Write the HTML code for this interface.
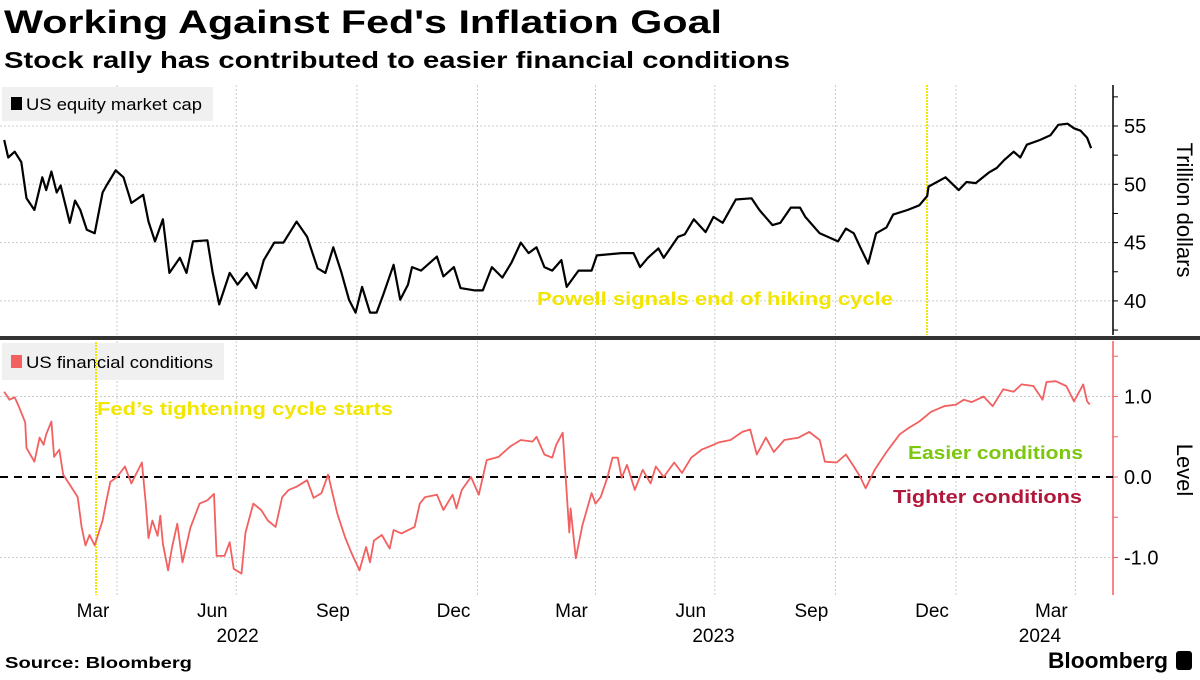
<!DOCTYPE html>
<html><head><meta charset="utf-8"><style>
body{margin:0;background:#fff;}
svg text{font-family:"Liberation Sans",sans-serif;}
</style></head><body>
<svg width="1200" height="675" viewBox="0 0 1200 675" xmlns="http://www.w3.org/2000/svg">
<text x="4" y="33" font-size="32" font-weight="bold" fill="#000" textLength="718" lengthAdjust="spacingAndGlyphs">Working Against Fed's Inflation Goal</text>
<text x="4" y="68" font-size="23" font-weight="bold" fill="#000" textLength="786" lengthAdjust="spacingAndGlyphs">Stock rally has contributed to easier financial conditions</text>
<g id="grid"></g>
<rect x="0" y="336" width="1200" height="4" fill="#333"/>
<rect x="2" y="87" width="211" height="34" fill="#f0f0f0"/>
<rect x="11" y="97" width="11" height="13" fill="#000"/>
<text x="26" y="110" font-size="17" fill="#000" textLength="176" lengthAdjust="spacingAndGlyphs">US equity market cap</text>
<rect x="2" y="343" width="222" height="37" fill="#f0f0f0"/>
<rect x="11" y="355" width="11" height="13" fill="#f26060"/>
<text x="26" y="368" font-size="17" fill="#000" textLength="187" lengthAdjust="spacingAndGlyphs">US financial conditions</text>
<line x1="927" y1="85" x2="927" y2="335" stroke="#f2e600" stroke-width="2" stroke-dasharray="2,1"/>
<line x1="96" y1="342" x2="96" y2="595" stroke="#f2e600" stroke-width="2" stroke-dasharray="2,1"/>
<g id="marks"></g>
<text x="537" y="305" font-size="18" font-weight="bold" fill="#f2e600" textLength="356" lengthAdjust="spacingAndGlyphs">Powell signals end of hiking cycle</text>
<text x="97" y="415" font-size="18" font-weight="bold" fill="#f2e600" textLength="296" lengthAdjust="spacingAndGlyphs">Fed’s tightening cycle starts</text>
<text x="908" y="459" font-size="18" font-weight="bold" fill="#7ac70c" textLength="175" lengthAdjust="spacingAndGlyphs">Easier conditions</text>
<text x="893" y="503" font-size="18" font-weight="bold" fill="#b0173a" textLength="189" lengthAdjust="spacingAndGlyphs">Tighter conditions</text>
<text transform="translate(1177,210) rotate(90)" font-size="22" text-anchor="middle" fill="#000">Trillion dollars</text>
<text transform="translate(1177,470) rotate(90)" font-size="22" text-anchor="middle" fill="#000">Level</text>
<text x="5" y="668" font-size="16" font-weight="bold" fill="#000" textLength="187" lengthAdjust="spacingAndGlyphs">Source: Bloomberg</text>
<text x="1048" y="668" font-size="22" font-weight="bold" fill="#000" textLength="120" lengthAdjust="spacingAndGlyphs">Bloomberg</text>
<rect x="1176" y="651" width="16" height="19" rx="3" fill="#000"/>
</svg>
<script>
const capDays=[4,7,12,17,21,27,33,36,40,44,47,54,58,62,67,73,79,82,89,95,101,110,114,119,125,130,138,143,148,159,163,168,176,182,189,196,202,210,217,227,235,243,249,255,261,267,272,277,283,288,293,301,306,312,315,322,334,339,347,352,363,369,376,384,391,398,404,410,416,422,429,433,442,452,456,475,484,489,495,503,507,518,523,530,539,545,552,562,574,580,590,596,604,611,615,626,632,640,646,652,657,663,669,677,682,693,702,708,709,722,732,738,745,755,761,767,774,779,784,794,802,808,815,820,825,830,833];
const capValues=[53.8,52.3,52.8,51.9,48.8,47.8,50.6,49.5,51.1,49.3,49.9,46.7,48.6,47.8,46.1,45.8,49.3,49.9,51.2,50.6,48.4,49.1,46.8,45.1,47.0,42.4,43.7,42.4,45.1,45.2,42.4,39.7,42.4,41.4,42.4,41.1,43.5,45.0,45.0,46.8,45.5,42.8,42.4,44.6,42.5,40.1,39.0,41.2,39.0,39.0,40.5,43.1,40.1,41.4,42.9,42.6,43.8,42.1,42.9,41.1,40.9,40.9,42.9,42.0,43.3,45.0,44.1,44.6,42.9,42.6,43.5,41.2,42.6,42.6,43.9,44.1,44.1,42.9,43.7,44.5,43.7,45.5,45.7,47.0,45.9,47.2,46.7,48.7,48.8,47.8,46.5,46.7,48.0,48.0,47.2,45.8,45.5,45.1,46.2,45.8,44.6,43.2,45.8,46.3,47.4,47.8,48.2,49.0,49.8,50.6,49.5,50.2,50.1,51.0,51.4,52.1,52.8,52.3,53.4,53.8,54.2,55.1,55.2,54.8,54.6,54.0,53.1];
const fciDays=[4,8,12,15,20,21,27,31,34,36,40,42,46,49,55,60,63,66,69,73,79,82,85,90,96,101,109,112,114,117,121,123,125,129,132,136,140,146,153,159,164,166,172,176,179,185,188,194,200,205,211,216,221,227,235,240,246,251,258,264,269,275,280,283,286,292,298,301,307,317,321,325,334,339,346,349,353,360,366,372,381,390,398,407,410,416,422,425,430,432,435,436,440,445,452,455,459,464,468,472,475,479,485,491,497,501,507,515,521,528,536,542,549,558,567,573,578,585,591,599,610,618,626,630,639,646,652,657,661,668,677,687,694,702,711,721,730,736,742,751,758,766,774,780,789,796,799,806,814,820,827,830,832];
const fciValues=[1.06,0.96,0.99,0.88,0.68,0.36,0.19,0.49,0.40,0.53,0.69,0.25,0.34,0.03,-0.12,-0.25,-0.62,-0.85,-0.72,-0.85,-0.54,-0.29,-0.06,0,0.13,-0.08,0.18,-0.33,-0.76,-0.54,-0.73,-0.48,-0.83,-1.16,-0.87,-0.58,-1.06,-0.63,-0.33,-0.29,-0.21,-0.98,-0.98,-0.81,-1.14,-1.20,-0.69,-0.33,-0.41,-0.54,-0.62,-0.25,-0.16,-0.12,-0.04,-0.26,-0.20,0.03,-0.45,-0.75,-0.95,-1.16,-0.87,-1.06,-0.79,-0.72,-0.89,-0.66,-0.70,-0.62,-0.33,-0.25,-0.22,-0.41,-0.22,-0.39,-0.16,0,-0.22,0.21,0.25,0.38,0.46,0.44,0.50,0.28,0.24,0.40,0.55,0.05,-0.69,-0.39,-1.01,-0.6,-0.2,-0.33,-0.25,-0.01,0.24,0.24,-0.01,0.15,-0.16,0.09,-0.08,0.13,0,0.18,0.05,0.24,0.34,0.38,0.43,0.46,0.56,0.59,0.28,0.49,0.31,0.46,0.49,0.56,0.46,0.19,0.18,0.28,0.13,0,-0.14,0.09,0.31,0.53,0.61,0.69,0.81,0.88,0.90,0.96,0.93,1.0,0.88,1.09,1.06,1.15,1.13,0.96,1.18,1.19,1.13,0.94,1.15,0.94,0.90];
const capTicks=[40,45,50,55];
const fciTicks=[-1.0,0.0,1.0];
const monthLabels=["Mar","Jun","Sep","Dec","Mar","Jun","Sep","Dec","Mar"];
const yearLabels=["2022","2023","2024"];

const NS="http://www.w3.org/2000/svg";
const AX=1113;
function xScale(d){return -1+d*1.311;}
function yCap(v){return 126+(55-v)*11.66;}
function yFci(v){return 477-v*80.5;}
function mk(tag,attrs,parent){const e=document.createElementNS(NS,tag);for(const k in attrs)e.setAttribute(k,attrs[k]);parent.appendChild(e);return e;}
const grid=document.getElementById('grid');
const marks=document.getElementById('marks');
const qDays=[90,181,273,365,455,546,638,730,821];
qDays.forEach((d,i)=>{
  const l=mk('line',{x1:xScale(d),x2:xScale(d),y1:85,y2:335,stroke:'#ccc','stroke-dasharray':'2,2'},grid);
  
  
  const l2=mk('line',{x1:xScale(d),x2:xScale(d),y1:341,y2:595,stroke:'#ccc','stroke-dasharray':'2,2'},grid);
  
  
  const t=mk('text',{x:xScale(d)-24,y:617,'font-size':19,'text-anchor':'middle',fill:'#000'},grid);
  t.textContent=monthLabels[i];
  
  
});
const yearDays=[182,545,794];
yearLabels.forEach((y,i)=>{
  const t=mk('text',{x:xScale(yearDays[i]),y:642,'font-size':19,'text-anchor':'middle',fill:'#000'},grid);
  t.textContent=y;
  
  
});
capTicks.forEach(v=>{
  const y=yCap(v);
  const l=mk('line',{x1:0,x2:AX,y1:y,y2:y,stroke:'#ccc','stroke-dasharray':'2,2'},grid);
  
  
  const t=mk('text',{x:1124,y:y+7,'font-size':20,fill:'#000'},grid);
  t.textContent=v;
  
  
});
for(let v=37.5;v<=57.5;v+=2.5){const y=yCap(v);if(y<86||y>334)continue;
  const tk=mk('line',{x1:AX,x2:AX+5,y1:y,y2:y,stroke:'#000','stroke-width':1},grid);
  
  }
const axT=mk('line',{x1:AX,x2:AX,y1:85,y2:335,stroke:'#000','stroke-width':1.5},grid);


fciTicks.forEach(v=>{
  const y=yFci(v);
  if(v!==0){const l=mk('line',{x1:0,x2:AX,y1:y,y2:y,stroke:'#ccc','stroke-dasharray':'2,2'},grid);
  
  }
  const t=mk('text',{x:1124,y:y+7,'font-size':20,fill:'#000'},grid);
  t.textContent=v.toFixed(1);
  
  
});
for(let v=-1.5;v<=1.5;v+=0.5){const y=yFci(v);if(y<342||y>594)continue;
  const tk=mk('line',{x1:AX,x2:AX+5,y1:y,y2:y,stroke:'#f26060','stroke-width':1},grid);
  
  }
const axB=mk('line',{x1:AX,x2:AX,y1:341,y2:595,stroke:'#f26060','stroke-width':1.5},grid);


const zl=mk('line',{x1:0,x2:AX,y1:yFci(0),y2:yFci(0),stroke:'#000','stroke-width':2,'stroke-dasharray':'8,6'},marks);


const capPath=mk('polyline',{points:capDays.map((d,i)=>xScale(d).toFixed(1)+','+yCap(capValues[i]).toFixed(1)).join(' '),fill:'none',stroke:'#000','stroke-width':2.2,'stroke-linejoin':'round'},marks);


const fciPath=mk('polyline',{points:fciDays.map((d,i)=>xScale(d).toFixed(1)+','+yFci(fciValues[i]).toFixed(1)).join(' '),fill:'none',stroke:'#f26060','stroke-width':1.8,'stroke-linejoin':'round'},marks);


</script>
</body></html>
